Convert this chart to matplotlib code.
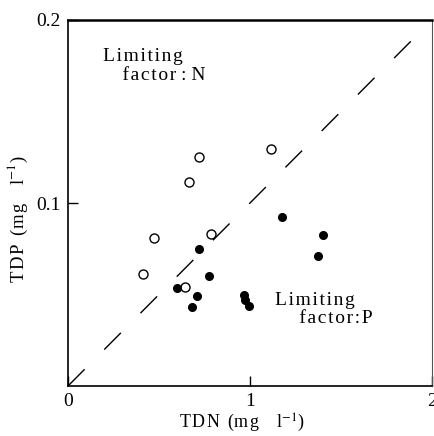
import matplotlib
matplotlib.use('Agg')
import matplotlib.pyplot as plt

# limiting factor N (open circles)
tdn_n = [0.72, 0.666, 1.115, 0.473, 0.786, 0.41, 0.643]
tdp_n = [0.1253, 0.1115, 0.1297, 0.081, 0.0829, 0.0612, 0.0539]

# limiting factor P (filled circles)
tdn_p = [0.72, 0.775, 0.60, 0.71, 0.68, 0.965, 0.974, 0.993, 1.177, 1.40, 1.375]
tdp_p = [0.0747, 0.0601, 0.0537, 0.0493, 0.0433, 0.0496, 0.0472, 0.0436, 0.0922, 0.0823, 0.0712]

# 1:10 line (N/P ratio)
line_x = [0, 1.92]
line_y = [0, 0.192]

plt.rcParams['font.family'] = ['Liberation Serif', 'DejaVu Serif']
plt.rcParams['mathtext.fontset'] = 'stix'

HAIR = '\u200a'
EN = '\u2002'


def spaced(s):
    # wide letter spacing like the typeset original
    return HAIR.join(s)


fig = plt.figure(figsize=(4.34, 4.36), dpi=100)
ax = fig.add_axes([68 / 434, 50 / 436, 364 / 434, 366 / 436])

ax.plot(line_x, line_y, color='black', linewidth=1.0, dashes=(17, 20))
ax.plot(tdn_n, tdp_n, 'o', markerfacecolor='white', markeredgecolor='black',
        markersize=6.5, markeredgewidth=1.0)
ax.plot(tdn_p, tdp_p, 'o', color='black', markersize=5.5)

ax.set_xlim(0, 2)
ax.set_ylim(0, 0.2)
ax.set_xticks([0, 1, 2])
ax.set_xticklabels(['0', '1', '2'])
ax.set_yticks([0.1, 0.2])
ax.set_yticklabels(['0.1', '0.2'])
ax.tick_params(direction='in', length=7, width=1, labelsize=14, pad=5)

for s in ax.spines.values():
    s.set_linewidth(1.2)
ax.spines['top'].set_linewidth(1.8)
ax.spines['right'].set_linewidth(0.8)
ax.spines['right'].set_color('#555555')

ax.text(0.19, 0.1845, spaced('Limiting') + '\n' + '    ' + spaced('factor') + ' : N',
        fontsize=14, va='top', ha='left', linespacing=1.1)
ax.text(1.14, 0.0515, spaced('Limiting') + '\n' + '     ' + spaced('factor') + HAIR + ':' + HAIR + 'P',
        fontsize=14, va='top', ha='left', linespacing=1.1)

xlab = spaced('TDN') + EN + '(' + spaced('mg') + EN + EN + 'l$^{-1}$)'
ylab = spaced('TDP') + EN + '(' + spaced('mg') + EN + EN + 'l$^{-1}$)'
ax.set_xlabel(xlab, fontsize=13)
ax.set_ylabel(ylab, fontsize=13.5)
ax.xaxis.set_label_coords(0.478, -0.069)
ax.yaxis.set_label_coords(-0.104, 0.456)

fig.savefig('out.png', dpi=100)
